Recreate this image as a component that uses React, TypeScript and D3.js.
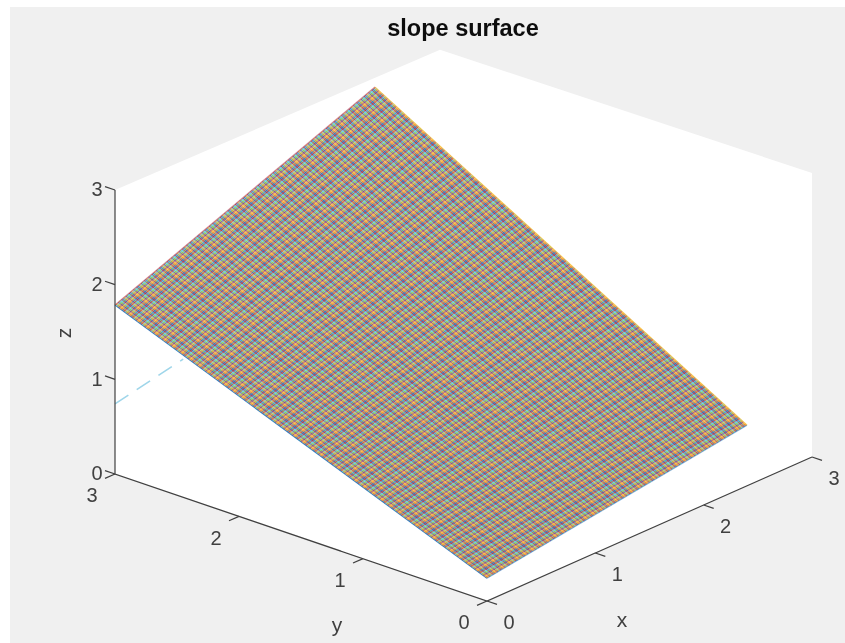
import React from "react";
import * as d3 from "d3";

const WIDTH = 845;
const HEIGHT = 643;

const titleText = "slope surface";
const axisTicks = [0, 1, 2, 3];
const xLabels = ["0", "1", "2", "3"];
const yLabels = ["0", "1", "2", "3"];
const zLabels = ["0", "1", "2", "3"];

// surface height at the four corners
const surfaceX = [0, 2.4];
const surfaceY = [0, 3];
const surfaceZ = [
  [0.24, 1.785],
  [0.64, 2.87],
];

// the hidden line under the surface: [x, y, z]
const dashedStart = [0, 3, 0.74];
const dashedEnd = [0, 2.45, 1.46];

const lineColors = ["#2F7FC4", "#EE8A3A", "#F7C64A", "#8A4A9E", "#93CC55", "#63D2F2", "#B83A50"];
const meshStep = 0.01;

const origin = [487, 601];
const xToPx = d3.scaleLinear().domain([0, 3]).range([0, 325]);
const xToPy = d3.scaleLinear().domain([0, 3]).range([0, -144]);
const yToPx = d3.scaleLinear().domain([0, 3]).range([0, -372]);
const yToPy = d3.scaleLinear().domain([0, 3]).range([0, -127]);
const zToPy = d3.scaleLinear().domain([0, 3]).range([0, -284]);

function project(x: number, y: number, z: number): [number, number] {
  return [origin[0] + xToPx(x) + yToPx(y), origin[1] + xToPy(x) + yToPy(y) + zToPy(z)];
}

function surfaceHeight(x: number, y: number) {
  const u = (x - surfaceX[0]) / (surfaceX[1] - surfaceX[0]);
  const v = (y - surfaceY[0]) / (surfaceY[1] - surfaceY[0]);
  const a = d3.interpolateNumber(surfaceZ[0][0], surfaceZ[1][0])(u);
  const b = d3.interpolateNumber(surfaceZ[0][1], surfaceZ[1][1])(u);
  return d3.interpolateNumber(a, b)(v);
}

const line = d3.line();

function App() {
  const xSteps = d3.range(0, surfaceX[1] + meshStep / 2, meshStep);
  const ySteps = d3.range(0, surfaceY[1] + meshStep / 2, meshStep);

  const box = [
    project(0, 3, 3),
    project(3, 3, 2.96),
    project(3, 0, 3),
    project(3, 0, 0),
    project(0, 0, 0),
    project(0, 3, 0),
  ];

  const tickColor = "#404040";
  const labelStyle = { fontFamily: "Liberation Sans", fontSize: 20, fill: "#404040" };

  return (
    <svg
      width={WIDTH}
      height={HEIGHT}
      style={{ position: "absolute", left: 0, top: 0, background: "#fff" }}
    >
      <defs>
        <filter id="soft" x="-5%" y="-5%" width="110%" height="110%">
          <feGaussianBlur stdDeviation="0.5" />
        </filter>
        <filter id="softer" x="-5%" y="-5%" width="110%" height="110%">
          <feGaussianBlur stdDeviation="0.3" />
        </filter>
      </defs>
      <rect x={10} y={7} width={WIDTH - 10} height={HEIGHT - 7} fill="#f0f0f0" />
      <path d={line(box) + "Z"} fill="#fff" />

      {/* hidden dashed line */}
      <path
        d={line([project(dashedStart[0], dashedStart[1], dashedStart[2]), project(dashedEnd[0], dashedEnd[1], dashedEnd[2])]) || ""}
        stroke="#9fd6ea"
        strokeWidth={1.6}
        strokeDasharray="16 10"
        fill="none"
      />

      <g filter="url(#soft)">
        {xSteps.map((x, i) => (
          <path
            key={"x" + i}
            d={line(surfaceY.map((y) => project(x, y, surfaceHeight(x, y)))) || ""}
            stroke={lineColors[i % lineColors.length]}
            strokeWidth={1.3}
            fill="none"
          />
        ))}
        {ySteps.map((y, i) => (
          <path
            key={"y" + i}
            d={line(surfaceX.map((x) => project(x, y, surfaceHeight(x, y)))) || ""}
            stroke={lineColors[i % lineColors.length]}
            strokeWidth={1.3}
            strokeOpacity={0.55}
            fill="none"
          />
        ))}
      </g>

      <g filter="url(#softer)">
        {/* axes */}
        <path d={line([project(0, 3, 3), project(0, 3, 0), project(0, 0, 0), project(3, 0, 0)]) || ""} stroke={tickColor} strokeWidth={1.2} fill="none" />
        {axisTicks.map((t) => {
          const zp = project(0, 3, t);
          const yp = project(0, t, 0);
          const xp = project(t, 0, 0);
          return (
            <g key={t} stroke={tickColor} strokeWidth={1.2}>
              <line x1={zp[0]} y1={zp[1]} x2={zp[0] - 10} y2={zp[1] - 3.4} />
              <line x1={yp[0]} y1={yp[1]} x2={yp[0] - 10} y2={yp[1] + 4.4} />
              <line x1={xp[0]} y1={xp[1]} x2={xp[0] + 10} y2={xp[1] + 3.4} />
            </g>
          );
        })}

        {zLabels.map((label, i) => {
          const p = project(0, 3, axisTicks[i]);
          return (
            <text key={"zl" + i} x={p[0] - 18} y={p[1] + 1} textAnchor="middle" dominantBaseline="middle" {...labelStyle}>
              {label}
            </text>
          );
        })}
        {yLabels.map((label, i) => {
          const p = project(0, axisTicks[i], 0);
          return (
            <text key={"yl" + i} x={p[0] - 23} y={p[1] + 23} textAnchor="middle" dominantBaseline="middle" {...labelStyle}>
              {label}
            </text>
          );
        })}
        {xLabels.map((label, i) => {
          const p = project(axisTicks[i], 0, 0);
          return (
            <text key={"xl" + i} x={p[0] + 22} y={p[1] + 23} textAnchor="middle" dominantBaseline="middle" {...labelStyle}>
              {label}
            </text>
          );
        })}

        <text x={622} y={621} textAnchor="middle" dominantBaseline="middle" {...labelStyle} fontSize={21}>x</text>
        <text x={337} y={626} textAnchor="middle" dominantBaseline="middle" {...labelStyle} fontSize={21}>y</text>
        <text transform="translate(65,333) rotate(-90)" textAnchor="middle" dominantBaseline="middle" {...labelStyle} fontSize={21}>z</text>
        <text x={463} y={30} textAnchor="middle" dominantBaseline="middle" fontFamily="Liberation Sans" fontSize={23.5} fontWeight="bold" fill="#111">
          {titleText}
        </text>
      </g>
    </svg>
  );
}

export default App;
